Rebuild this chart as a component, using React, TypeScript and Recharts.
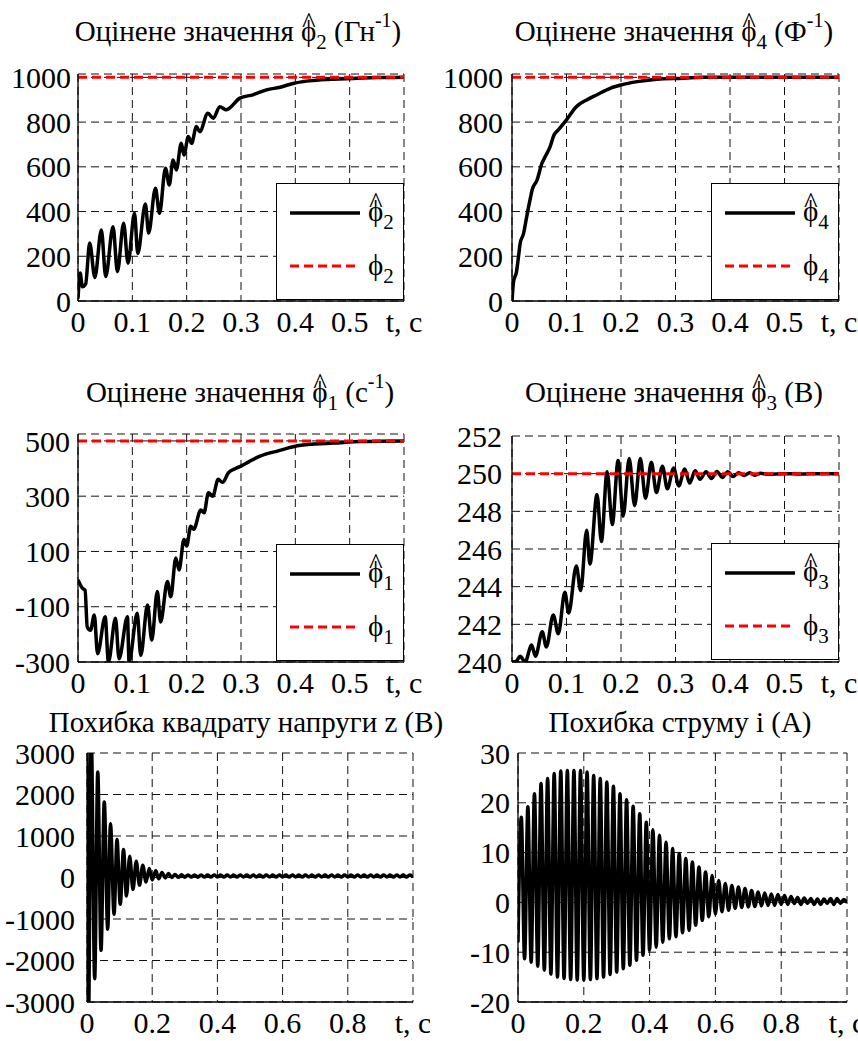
import { LineChart, Line, XAxis, YAxis, CartesianGrid, Legend } from "recharts";

const FONT = "'Liberation Serif', 'Times New Roman', Times, serif";
const BLACK = "#000000";
const RED = "#ff0000";
const PHI = "ϕ";

// time axes (s)
const estSpan = [0, 0.6];
const estTicks = [0, 0.1, 0.2, 0.3, 0.4, 0.5, 0.6];
const errTicks = [0, 0.2, 0.4, 0.6, 0.8, 1];

// φ2 estimate (Гн^-1)
const phi2Time = [
  0, 0.004, 0.008, 0.014, 0.0215, 0.031, 0.043, 0.051, 0.0645, 0.0725,
  0.084, 0.092, 0.104, 0.11, 0.124, 0.13, 0.1425, 0.15, 0.161, 0.168,
  0.175, 0.181, 0.19, 0.195, 0.203, 0.209, 0.218, 0.224, 0.239, 0.249,
  0.261, 0.273, 0.298, 0.322, 0.347, 0.372, 0.398, 0.433, 0.47, 0.507,
  0.55, 0.6,
];
const phi2Hat = [
  10, 125, 64, 75, 259, 105, 318, 109, 332, 131,
  348, 169, 392, 213, 434, 304, 504, 392, 594, 519,
  631, 586, 705, 653, 735, 705, 780, 757, 840, 817,
  869, 855, 907, 922, 944, 956, 974, 986, 992, 995,
  999, 1000,
];
const phi2 = 1000;
const phi2Ticks = [0, 200, 400, 600, 800, 1000];

// φ4 estimate (Ф^-1)
const phi4Time = [
  0, 0.003, 0.008, 0.012, 0.015, 0.021, 0.027, 0.033, 0.037, 0.046,
  0.055, 0.061, 0.07, 0.077, 0.085, 0.1, 0.118, 0.137, 0.156, 0.18,
  0.2, 0.23, 0.266, 0.315, 0.35, 0.6,
];
const phi4Hat = [
  0, 90, 128, 200, 258, 300, 377, 452, 497, 541,
  616, 646, 690, 742, 765, 810, 869, 899, 922, 951,
  966, 981, 992, 996, 1000, 1000,
];
const phi4 = 1000;
const phi4Ticks = [0, 200, 400, 600, 800, 1000];

// φ1 estimate (с^-1)
const phi1Time = [
  0, 0.008, 0.013, 0.017, 0.023, 0.03, 0.036, 0.05, 0.056, 0.069,
  0.0755, 0.091, 0.094, 0.109, 0.1155, 0.128, 0.1357, 0.146, 0.152, 0.1646,
  0.1707, 0.18, 0.186, 0.195, 0.2, 0.2075, 0.213, 0.226, 0.232, 0.24,
  0.248, 0.258, 0.266, 0.277, 0.29, 0.3, 0.315, 0.335, 0.37, 0.398,
  0.43, 0.47, 0.52, 0.6,
];
const phi1Hat = [
  -3, -33, -40, -173, -185, -130, -270, -136, -300, -142,
  -288, -136, -300, -124, -276, -94, -221, -45, -155, -9,
  -64, 76, 33, 143, 120, 191, 180, 250, 240, 312,
  300, 361, 350, 385, 400, 409, 425, 445, 465, 480,
  488, 492, 498, 500,
];
const phi1 = 500;
const phi1Ticks = [-300, -100, 100, 300, 500];

// φ3 estimate (В)
const phi3Time = [
  0, 0.008, 0.015, 0.024, 0.036, 0.043, 0.0555, 0.063, 0.0757, 0.085,
  0.097, 0.104, 0.118, 0.126, 0.137, 0.143, 0.156, 0.164, 0.1745, 0.184,
  0.1947, 0.204, 0.215, 0.225, 0.2355, 0.245, 0.2557, 0.265, 0.276, 0.285,
  0.2967, 0.306, 0.317, 0.326, 0.336, 0.345, 0.356, 0.366, 0.376, 0.386,
  0.396, 0.406, 0.416, 0.426, 0.436, 0.446, 0.456, 0.47, 0.5, 0.53,
  0.56, 0.6,
];
const phi3Hat = [
  240, 240.05, 240.3, 240.0, 240.9, 240.3, 241.6, 240.8, 242.5, 241.5,
  243.7, 242.6, 245.1, 243.8, 247.0, 245.2, 248.9, 246.4, 250.1, 247.3,
  250.7, 247.75, 250.8, 248.3, 250.8, 248.7, 250.6, 249.0, 250.4, 249.2,
  250.3, 249.35, 250.25, 249.5, 250.15, 249.7, 250.1, 249.75, 250.12, 249.8,
  250.1, 249.85, 250.05, 249.9, 250.05, 249.92, 250.02, 249.97, 250.0, 249.98,
  250.0, 250.0,
];
const phi3 = 250;
const phi3Ticks = [240, 242, 244, 246, 248, 250, 252];

// squared voltage error z (В)
const zTime = [
  0, 0.004, 0.013, 0.0236, 0.033, 0.043, 0.053, 0.0635, 0.072, 0.083,
  0.092, 0.102, 0.112, 0.121, 0.131, 0.141, 0.151, 0.161, 0.171, 0.181,
  0.191, 0.2, 0.211,
  0.22, 0.23, 0.24, 0.25, 0.26, 0.27, 0.28, 0.29, 0.3, 0.31,
  0.32, 0.33, 0.34, 0.35, 0.36, 0.37, 0.38, 0.39, 0.4, 0.41,
  0.42, 0.43, 0.44, 0.45, 0.46, 0.47, 0.48, 0.49, 0.5, 0.51,
  0.52, 0.53, 0.54, 0.55, 0.56, 0.57, 0.58, 0.59, 0.6, 0.61,
  0.62, 0.63, 0.64, 0.65, 0.66, 0.67, 0.68, 0.69, 0.7, 0.71,
  0.72, 0.73, 0.74, 0.75, 0.76, 0.77, 0.78, 0.79, 0.8, 0.81,
  0.82, 0.83, 0.84, 0.85, 0.86, 0.87, 0.88, 0.89, 0.9, 0.91,
  0.92, 0.93, 0.94, 0.95, 0.96, 0.97, 0.98, 0.99, 1,
];
const zErr = [
  3600, -3800, 3400, -2437, 2542, -1754, 1820, -1248, 1298, -887,
  913, -646, 672, -446, 511, -292, 390, -188, 294, -108,
  214, -60, 160,
  -30, 120, -10, 95, 0, 75, 5, 65, 8, 62,
  10, 60, 8, 62, 10, 58, 10, 60, 12, 60,
  10, 58, 12, 60, 10, 60, 12, 58, 10, 60,
  12, 60, 10, 58, 12, 60, 10, 60, 12, 58,
  10, 60, 12, 60, 10, 58, 12, 60, 10, 60,
  12, 58, 10, 60, 12, 60, 10, 58, 12, 60,
  10, 60, 12, 58, 10, 60, 12, 60, 10, 58,
  12, 60, 10, 60, 12, 58, 10, 60, 12,
];
const zTicks = [-3000, -2000, -1000, 0, 1000, 2000, 3000];

// current error i (А)
const iTime = [
  0, 0.01, 0.02, 0.03, 0.04, 0.05, 0.06, 0.07, 0.08, 0.09,
  0.1, 0.11, 0.12, 0.13, 0.14, 0.15, 0.16, 0.17, 0.18, 0.19,
  0.2, 0.21, 0.22, 0.23, 0.24, 0.25, 0.26, 0.27, 0.28, 0.29,
  0.3, 0.31, 0.32, 0.33, 0.34, 0.35, 0.36, 0.37, 0.38, 0.39,
  0.4, 0.41, 0.42, 0.43, 0.44, 0.45, 0.46, 0.47, 0.48, 0.49,
  0.5, 0.51, 0.52, 0.53, 0.54, 0.55, 0.56, 0.57, 0.58, 0.59,
  0.6, 0.61, 0.62, 0.63, 0.64, 0.65, 0.66, 0.67, 0.68, 0.69,
  0.7, 0.71, 0.72, 0.73, 0.74, 0.75, 0.76, 0.77, 0.78, 0.79,
  0.8, 0.81, 0.82, 0.83, 0.84, 0.85, 0.86, 0.87, 0.88, 0.89,
  0.9, 0.91, 0.92, 0.93, 0.94, 0.95, 0.96, 0.97, 0.98, 0.99,
  1,
];
const iErr = [
  -8, 17.1, -11.3, 19.2, -12.0, 21.8, -12.8, 23.9, -13.6, 24.9,
  -14.4, 25.9, -15.0, 26.4, -15.3, 26.5, -15.5, 26.5, -15.6, 26.5,
  -15.6, 26.2, -15.5, 25.5, -15.3, 24.9, -15.0, 24.2, -14.5, 23.3,
  -14.0, 21.8, -13.3, 20.6, -12.6, 19.3, -11.6, 17.8, -10.6, 16.1,
  -9.6, 14.6, -9.0, 13.5, -8.0, 12.1, -7.3, 10.8, -6.9, 9.8,
  -6.1, 8.8, -5.6, 8.1, -4.6, 7.1, -3.6, 6.1, -2.9, 5.4,
  -2.3, 4.4, -1.9, 3.8, -1.6, 3.4, -1.2, 3.1, -1.0, 2.8,
  -0.9, 2.4, -0.8, 2.1, -0.7, 1.9, -0.6, 1.7, -0.6, 1.6,
  -0.4, 1.4, -0.4, 1.2, -0.2, 1.0, -0.4, 0.9, -0.2, 0.8,
  -0.4, 0.7, -0.4, 0.7, -0.2, 0.8, -0.4, 0.8, -0.2, 0.6,
  0.0,
];
const iTicks = [-20, -10, 0, 10, 20, 30];

type Pt = { t: number; v: number };

const toRows = (ts: number[], vs: number[]): Pt[] => ts.map((t, k) => ({ t, v: vs[k] }));
const level = (value: number): Pt[] => estSpan.map((t) => ({ t, v: value }));

const tickStyle = { fontSize: 30, fontFamily: FONT, fill: BLACK };
const frame = { stroke: BLACK, strokeWidth: 1.3 };

function PhiLabel({ x, y, sub, hat }: { x: number; y: number; sub: string; hat?: boolean }) {
  return (
    <text x={x} y={y} fontFamily={FONT} fontSize={29} fill={BLACK}>
      {PHI}
      {hat ? (
        <tspan dx={-14.3} dy={-8}>
          ^
        </tspan>
      ) : null}
      <tspan fontSize={21} dx={hat ? 0.7 : 0} dy={hat ? 16 : 8}>
        {sub}
      </tspan>
    </text>
  );
}

function LegendBox({ sub }: { sub: string }) {
  return (
    <div
      style={{
        width: 128,
        height: 117,
        boxSizing: "border-box",
        border: `1.3px solid ${BLACK}`,
        background: "#fff",
      }}
    >
      <svg width={126} height={115} style={{ display: "block" }}>
        <line x1={13} x2={83} y1={29} y2={29} stroke={BLACK} strokeWidth={3.5} />
        <line x1={13} x2={83} y1={82} y2={82} stroke={RED} strokeWidth={3} strokeDasharray="9 5" />
        <PhiLabel x={91} y={37} sub={sub} hat />
        <PhiLabel x={91} y={91} sub={sub} />
      </svg>
    </div>
  );
}

type PanelProps = {
  left: number;
  top: number;
  width: number;
  height: number;
  margin: { top: number; right: number; bottom: number; left: number };
  yWidth: number;
  yGap: number;
  xHeight: number;
  xDomain: [number, number];
  xTicks: number[];
  yDomain: [number, number];
  yTicks: number[];
  est: Pt[];
  truth?: Pt[];
  sub?: string;
  legendAt?: { left: number; top: number };
};

function Panel(p: PanelProps) {
  const last = p.xTicks[p.xTicks.length - 1];
  return (
    <div style={{ position: "absolute", left: p.left, top: p.top }}>
      <LineChart width={p.width} height={p.height} margin={p.margin}>
        <CartesianGrid stroke="#111" strokeWidth={1} strokeDasharray="8 5" />
        <XAxis
          dataKey="t"
          type="number"
          domain={p.xDomain}
          ticks={p.xTicks}
          interval={0}
          height={p.xHeight}
          tickFormatter={(v: number) => (v === last ? "t, c" : String(v))}
          tick={tickStyle}
          tickLine={false}
          tickSize={0}
          tickMargin={10}
          axisLine={frame}
          allowDataOverflow
        />
        <XAxis
          xAxisId="top"
          orientation="top"
          type="number"
          domain={p.xDomain}
          height={0}
          tick={false}
          tickLine={false}
          axisLine={frame}
        />
        <YAxis
          type="number"
          domain={p.yDomain}
          ticks={p.yTicks}
          interval={0}
          width={p.yWidth}
          tick={tickStyle}
          tickLine={false}
          tickSize={0}
          tickMargin={p.yGap}
          axisLine={frame}
          allowDataOverflow
        />
        <YAxis
          yAxisId="right"
          orientation="right"
          type="number"
          domain={p.yDomain}
          width={0}
          tick={false}
          tickLine={false}
          axisLine={frame}
        />
        <Line
          data={p.est}
          dataKey="v"
          type="monotone"
          stroke={BLACK}
          strokeWidth={3.5}
          strokeLinejoin="round"
          dot={false}
          activeDot={false}
          isAnimationActive={false}
        />
        {p.truth ? (
          <Line
            data={p.truth}
            dataKey="v"
            type="linear"
            stroke={RED}
            strokeWidth={3}
            strokeDasharray="9 5"
            dot={false}
            activeDot={false}
            isAnimationActive={false}
          />
        ) : null}
        {p.sub && p.legendAt ? (
          <Legend
            layout="horizontal"
            verticalAlign="middle"
            align="center"
            wrapperStyle={{ left: p.legendAt.left, top: p.legendAt.top, width: 128, height: 117 }}
            content={() => <LegendBox sub={p.sub as string} />}
          />
        ) : null}
      </LineChart>
    </div>
  );
}

function EstTitle({ x, y, sub, unit, sup }: { x: number; y: number; sub: string; unit: string; sup?: string }) {
  return (
    <text x={x} y={y} textAnchor="middle" fontFamily={FONT} fontSize={29} fill={BLACK}>
      {`Оцінене значення ${PHI}`}
      <tspan dx={-14.3} dy={-8}>
        ^
      </tspan>
      <tspan fontSize={21} dx={0.7} dy={16}>
        {sub}
      </tspan>
      <tspan dy={-8}>{` (${unit}`}</tspan>
      {sup ? (
        <tspan fontSize={20} dy={-14}>
          {sup}
        </tspan>
      ) : null}
      <tspan dy={sup ? 14 : 0}>)</tspan>
    </text>
  );
}

export default function App() {
  return (
    <div
      style={{
        position: "absolute",
        left: 0,
        top: 0,
        width: 858,
        height: 1041,
        background: "#fff",
        overflow: "hidden",
        fontFamily: FONT,
      }}
    >
      <Panel
        left={0}
        top={0}
        width={430}
        height={345}
        margin={{ top: 74, right: 26, bottom: 4, left: 0 }}
        yWidth={78}
        yGap={7}
        xHeight={40}
        xDomain={[0, 0.6]}
        xTicks={estTicks}
        yDomain={[0, 1015]}
        yTicks={phi2Ticks}
        est={toRows(phi2Time, phi2Hat)}
        truth={level(phi2)}
        sub="2"
        legendAt={{ left: 276, top: 183 }}
      />
      <Panel
        left={430}
        top={0}
        width={428}
        height={345}
        margin={{ top: 74, right: 19, bottom: 4, left: 0 }}
        yWidth={82}
        yGap={9}
        xHeight={40}
        xDomain={[0, 0.6]}
        xTicks={estTicks}
        yDomain={[0, 1015]}
        yTicks={phi4Ticks}
        est={toRows(phi4Time, phi4Hat)}
        truth={level(phi4)}
        sub="4"
        legendAt={{ left: 281, top: 183 }}
      />
      <Panel
        left={0}
        top={345}
        width={430}
        height={357}
        margin={{ top: 89, right: 26, bottom: 0, left: 0 }}
        yWidth={78}
        yGap={8}
        xHeight={40}
        xDomain={[0, 0.6]}
        xTicks={estTicks}
        yDomain={[-300, 525]}
        yTicks={phi1Ticks}
        est={toRows(phi1Time, phi1Hat)}
        truth={level(phi1)}
        sub="1"
        legendAt={{ left: 276, top: 199 }}
      />
      <Panel
        left={430}
        top={345}
        width={428}
        height={357}
        margin={{ top: 91, right: 19, bottom: 0, left: 0 }}
        yWidth={82}
        yGap={10}
        xHeight={40}
        xDomain={[0, 0.6]}
        xTicks={estTicks}
        yDomain={[240, 252]}
        yTicks={phi3Ticks}
        est={toRows(phi3Time, phi3Hat)}
        truth={level(phi3)}
        sub="3"
        legendAt={{ left: 281, top: 198 }}
      />
      <Panel
        left={0}
        top={700}
        width={430}
        height={341}
        margin={{ top: 53, right: 17, bottom: 0, left: 0 }}
        yWidth={87}
        yGap={12}
        xHeight={39}
        xDomain={[0, 1]}
        xTicks={errTicks}
        yDomain={[-3000, 3000]}
        yTicks={zTicks}
        est={toRows(zTime, zErr)}
      />
      <Panel
        left={430}
        top={700}
        width={428}
        height={341}
        margin={{ top: 53, right: 11, bottom: 0, left: 0 }}
        yWidth={88}
        yGap={8}
        xHeight={39}
        xDomain={[0, 1]}
        xTicks={errTicks}
        yDomain={[-20, 30]}
        yTicks={iTicks}
        est={toRows(iTime, iErr)}
      />
      <svg
        width={858}
        height={1041}
        style={{ position: "absolute", left: 0, top: 0, pointerEvents: "none" }}
      >
        <EstTitle x={238} y={41} sub="2" unit="Гн" sup="-1" />
        <EstTitle x={674} y={41} sub="4" unit="Ф" sup="-1" />
        <EstTitle x={240} y={402} sub="1" unit="с" sup="-1" />
        <EstTitle x={674} y={402} sub="3" unit="В" />
        <text x={246} y={732} textAnchor="middle" fontFamily={FONT} fontSize={29} fill={BLACK}>
          Похибка квадрату напруги z (В)
        </text>
        <text x={680} y={732} textAnchor="middle" fontFamily={FONT} fontSize={29} fill={BLACK}>
          Похибка струму i (А)
        </text>
      </svg>
    </div>
  );
}
